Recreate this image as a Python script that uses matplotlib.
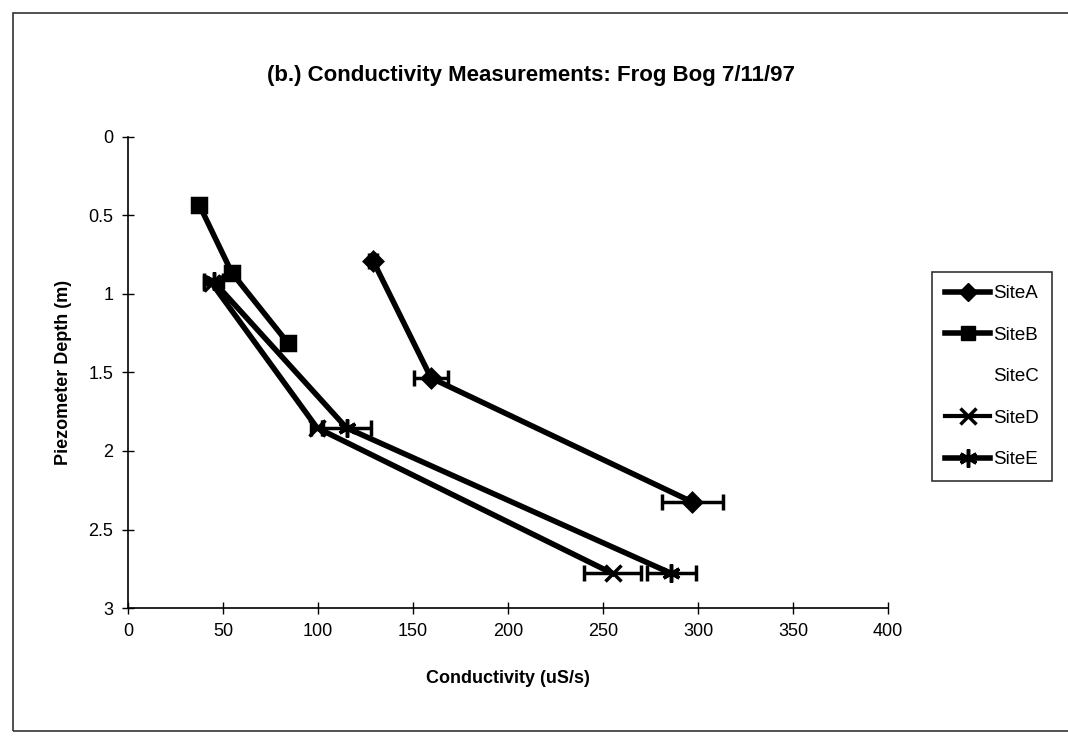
import matplotlib
matplotlib.use('Agg')
import matplotlib.pyplot as plt
from matplotlib.patches import Rectangle
from matplotlib.lines import Line2D

# values
site_a_cond  = [129, 159.5, 297]
site_a_depth = [0.79, 1.535, 2.325]
site_a_err   = [2, 9, 16]

site_b_cond  = [37.5, 54.7, 84]
site_b_depth = [0.433, 0.866, 1.31]
site_b_err   = [2, 3, 3]

site_c_cond  = []
site_c_depth = []

site_d_cond  = [44, 99.5, 255]
site_d_depth = [0.93, 1.853, 2.78]
site_d_err   = [4, 3, 15]

site_e_cond  = [45, 115, 286]
site_e_depth = [0.92, 1.853, 2.78]
site_e_err   = [5, 13, 13]

x_ticks = [0, 50, 100, 150, 200, 250, 300, 350, 400]
y_ticks = [0, 0.5, 1, 1.5, 2, 2.5, 3]
y_tick_labels = ["0", "0.5", "1", "1.5", "2", "2.5", "3"]

plt.rcParams['font.family'] = ['Liberation Sans', 'DejaVu Sans']

fig = plt.figure(figsize=(10.68, 7.36), dpi=100)
ax = fig.add_axes([0.1199, 0.1739, 0.7116, 0.64])

# outer chart frame (open on the right like the scan)
fig.patches.append(Rectangle((13 / 1068, 5 / 736), 1.2, 718 / 736, transform=fig.transFigure,
                             fill=False, edgecolor='#333333', linewidth=1.2))

series = [
    ("SiteA", site_a_cond, site_a_depth, site_a_err, 'D', 9),
    ("SiteB", site_b_cond, site_b_depth, site_b_err, 's', 10),
    ("SiteD", site_d_cond, site_d_depth, site_d_err, 'x', 11),
    ("SiteE", site_e_cond, site_e_depth, site_e_err, (6, 2, 0), 13),
]

for name, xs, ys, err, mk, ms in series:
    ax.errorbar(xs, ys, xerr=err, color='black', linewidth=4, marker=mk, markersize=ms,
                markeredgewidth=2.5, elinewidth=2.5, capsize=6, capthick=2.5, zorder=3)

ax.plot(site_c_cond, site_c_depth, linestyle='none')

ax.set_xlim(0, 400)
ax.set_ylim(3, 0)
ax.set_xticks(x_ticks)
ax.set_xticklabels([str(t) for t in x_ticks])
ax.set_yticks(y_ticks)
ax.set_yticklabels(y_tick_labels)
ax.tick_params(direction='inout', length=9, width=1, labelsize=13, pad=6)
for side in ['top', 'right']:
    ax.spines[side].set_visible(False)
for side in ['left', 'bottom']:
    ax.spines[side].set_linewidth(1.2)

ax.set_xlabel("Conductivity (uS/s)", fontsize=13, fontweight='bold', labelpad=22)
ax.set_ylabel("Piezometer Depth (m)", fontsize=13, fontweight='bold', labelpad=12)
fig.text(0.497, 0.897, "(b.) Conductivity Measurements: Frog Bog 7/11/97",
         ha='center', va='center', fontsize=16, fontweight='bold')

handles = [
    Line2D([], [], color='black', linewidth=4, marker='D', markersize=9),
    Line2D([], [], color='black', linewidth=4, marker='s', markersize=10),
    Line2D([], [], linestyle='none'),
    Line2D([], [], color='black', linewidth=3, marker='x', markersize=11, markeredgewidth=2.5),
    Line2D([], [], color='black', linewidth=4, marker=(6, 2, 0), markersize=13, markeredgewidth=2.5),
]
labels = ["SiteA", "SiteB", "SiteC", "SiteD", "SiteE"]
leg = fig.legend(handles, labels, loc='upper left', bbox_to_anchor=(932 / 1068, 1 - 272 / 736),
                 fontsize=13.5, frameon=True, fancybox=False, edgecolor='black',
                 handlelength=2.4, handletextpad=0.15, labelspacing=1.3, borderpad=0.7,
                 borderaxespad=0)
leg.get_frame().set_linewidth(1.2)

fig.savefig("out.png", dpi=100)
